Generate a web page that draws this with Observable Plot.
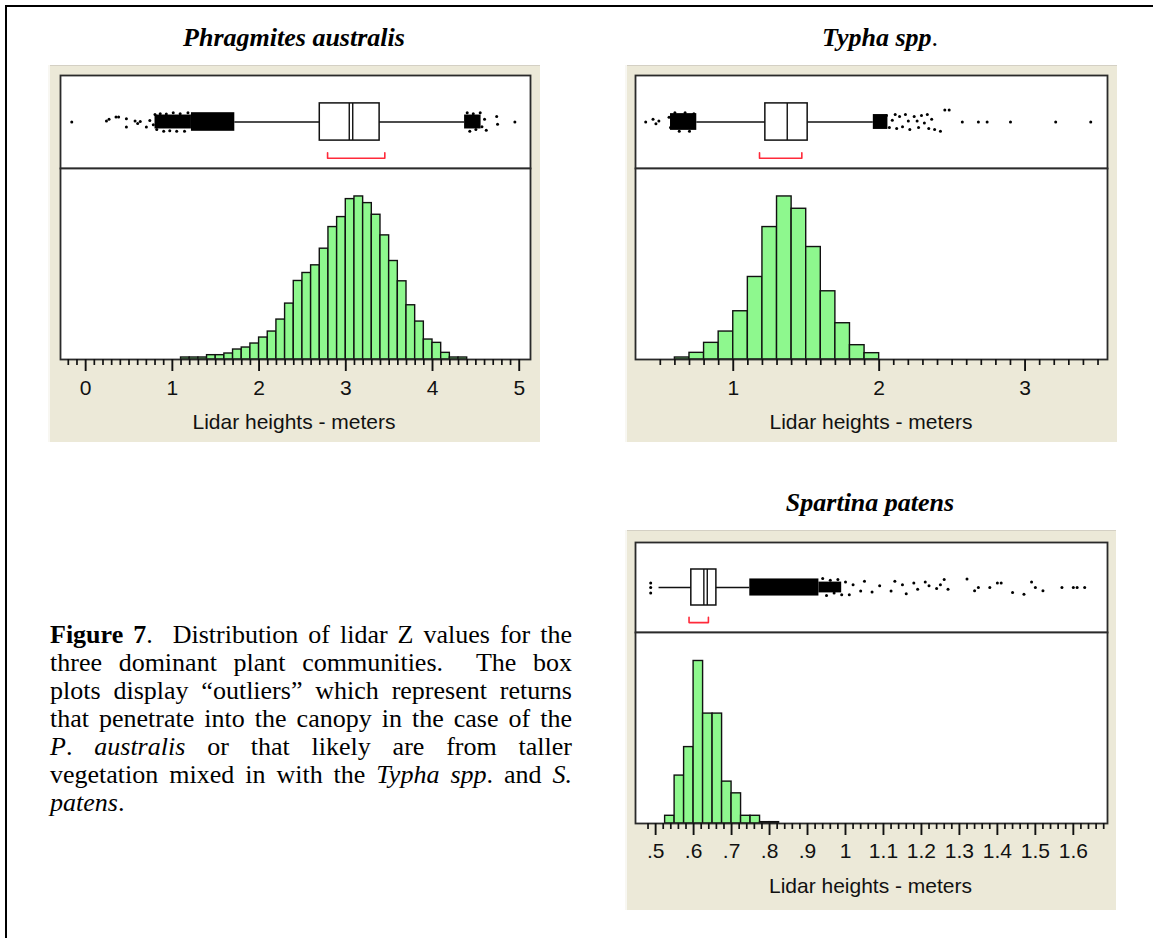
<!DOCTYPE html>
<html>
<head>
<meta charset="utf-8">
<script src="https://cdn.jsdelivr.net/npm/d3@7"></script>
<script src="https://cdn.jsdelivr.net/npm/@observablehq/plot@0.6"></script>
<style>
html,body{margin:0;padding:0;background:#fff;}
body{width:1153px;height:938px;position:relative;overflow:hidden;font-family:"Liberation Serif","Times New Roman",serif;color:#000;}
#outer{position:absolute;left:5px;top:5px;width:1300px;height:1100px;border-left:2px solid #000;border-top:2px solid #000;}
.title{position:absolute;font-weight:bold;font-style:italic;font-size:26px;line-height:30px;white-space:nowrap;transform:translate(-50%,-50%);}
.title .rom{font-style:normal;font-weight:normal;}
.panel{position:absolute;background:#ECE9D8;box-shadow:inset 2px 0 0 #f8f7f2, inset 0 1px 0 #d4d0c4;}
.panel svg{position:absolute;left:0;overflow:visible;}
.xlabel{position:absolute;left:0;right:0;text-align:center;font-family:"Liberation Sans",Arial,sans-serif;font-size:21px;line-height:24px;color:#111;}
#caption{position:absolute;left:50px;top:621px;width:522px;font-size:26px;line-height:28px;}
#caption div{text-align:justify;text-align-last:justify;white-space:nowrap;}
#caption div.last{text-align-last:left;}
</style>
</head>
<body>
<div id="outer"></div>
<div class="title" style="left:294px;top:38px;">Phragmites australis</div>
<div class="title" style="left:880px;top:38px;">Typha spp<span class="rom">.</span></div>
<div class="title" style="left:870px;top:503px;">Spartina patens</div>
<div class="panel" id="p1" style="left:48px;top:65px;width:492px;height:377px;"></div>
<div class="panel" id="p2" style="left:625px;top:65px;width:492px;height:377px;"></div>
<div class="panel" id="p3" style="left:625px;top:530px;width:491px;height:380px;"></div>
<div id="caption">
<div><b>Figure 7</b>.&nbsp; Distribution of lidar Z values for the</div>
<div>three dominant plant communities.&nbsp; The box</div>
<div>plots display “outliers” which represent returns</div>
<div>that penetrate into the canopy in the case of the</div>
<div><i>P</i>. <i>australis</i> or that likely are from taller</div>
<div>vegetation mixed in with the <i>Typha spp</i>. and <i>S.</i></div>
<div class="last"><i>patens</i>.</div>
</div>
<script>
// ---------------- DATA ----------------
const axisTitle = "Lidar heights - meters";

// Phragmites australis
const phragBinLo = [1.1,1.2,1.3,1.4,1.5,1.6,1.7,1.8,1.9,2.0,2.1,2.2,2.3,2.4,2.5,2.6,2.7,2.8,2.9,3.0,3.1,3.2,3.3,3.4,3.5,3.6,3.7,3.8,3.9,4.0,4.1,4.2,4.3];
const phragCounts = [6,6,6,13,13,18,30,36,48,66,84,120,168,236,260,283,333,398,428,482,490,470,435,373,296,235,163,114,60,50,20,6,6];
const phragBinWidth = 0.1;
const phragBox = [1.72, 2.70, 3.39, 4.37];        // lower whisker, Q1, Q3, upper whisker
const phragMedian = [3.04, 3.08];
const phragShortestHalf = [2.79, 3.45];
const phragOutliers = [
  [-0.16,0],[0.24,0.02],[0.27,0.06],[0.35,0.11],[0.38,0.11],[0.47,0.07],[0.47,-0.11],[0.57,0.02],[0.60,-0.03],[0.63,0.01],
  [0.70,-0.11],[0.74,0.03],[0.78,-0.06],[0.80,0.16],[0.82,-0.16],[0.86,0.18],[0.90,-0.2],[0.93,0.17],[0.97,-0.19],[1.01,0.2],
  [1.05,-0.2],[1.09,0.18],[1.14,-0.2],[1.18,0.2],
  [4.40,0.2],[4.43,-0.2],[4.47,0.18],[4.50,-0.16],[4.55,0.2],[4.57,-0.1],[4.60,0.06],[4.62,-0.18],[4.74,0.12],[4.75,-0.05],[4.95,0]
];
const phragDense = [[0.80,1.22,0.15],[1.22,1.72,0.2],[4.37,4.56,0.15]];
const phragTicks = [0,1,2,3,4,5];
const phragTickLabels = ["0","1","2","3","4","5"];

// Typha spp.
const typhaBinLo = [0.6,0.7,0.8,0.9,1.0,1.1,1.2,1.3,1.4,1.5,1.6,1.7,1.8,1.9];
const typhaCounts = [6,20,50,84,145,248,398,490,453,338,205,109,43,19];
const typhaBinWidth = 0.1;
const typhaBox = [0.75, 1.22, 1.51, 1.96];
const typhaMedian = [1.37];
const typhaShortestHalf = [1.18, 1.47];
const typhaOutliers = [
  [0.40,0],[0.45,0.06],[0.47,-0.04],[0.49,0.02],[0.56,0.1],[0.57,-0.12],[0.60,0.2],[0.63,-0.2],[0.67,0.2],[0.70,-0.2],[0.73,0.18],
  [2.05,0.14],[2.07,-0.12],[2.09,0.04],[2.11,0.16],[2.12,-0.14],[2.14,0.12],[2.16,-0.1],[2.18,0.16],[2.20,0.02],[2.21,-0.16],
  [2.24,0.12],[2.26,0.02],[2.27,-0.12],[2.29,0.14],[2.31,-0.02],[2.33,0.16],[2.34,-0.14],[2.36,0.06],[2.38,-0.16],
  [2.42,-0.2],[2.45,0.26],[2.48,0.26],[2.57,0],[2.68,0],[2.74,0],[2.90,0],[3.21,0],[3.45,0]
];
const typhaDense = [[0.57,0.75,0.18],[1.96,2.06,0.16]];
const typhaTicks = [1,2,3];
const typhaTickLabels = ["1","2","3"];

// Spartina patens
const spartBinLo = [0.525,0.55,0.575,0.6,0.625,0.65,0.675,0.7,0.725,0.75,0.775,0.8];
const spartCounts = [23,143,228,485,328,328,125,90,23,23,4,4];
const spartBinWidth = 0.025;
const spartBox = [0.509, 0.594, 0.660, 0.748];
const spartMedian = [0.627, 0.636];
const spartShortestHalf = [0.588, 0.639];
const spartOutliers = [
  [0.487,0.1],[0.487,0],[0.487,-0.12],
  [0.94,0.2],[0.95,-0.18],[0.96,0.16],[0.97,-0.12],[0.98,0.18],[0.99,-0.16],[1.00,0.12],[1.01,-0.16],[1.02,0.06],
  [1.04,-0.08],[1.05,0.14],[1.07,-0.1],[1.09,0.04],[1.12,-0.08],[1.13,0.14],[1.15,0.06],[1.16,-0.14],[1.18,0.1],
  [1.19,-0.04],[1.21,0.12],[1.22,0.04],[1.24,-0.02],[1.25,0.06],[1.26,0.18],[1.27,-0.04],
  [1.32,0.19],[1.34,-0.07],[1.35,0],[1.38,0],[1.40,0.1],[1.41,0.1],[1.44,-0.11],[1.47,-0.15],[1.49,0.12],[1.50,0],
  [1.52,-0.07],[1.57,0],[1.60,0],[1.61,0],[1.63,0]
];
const spartDense = [[0.748,0.93,0.19],[0.93,0.99,0.12]];
const spartTicks = [0.5,0.6,0.7,0.8,0.9,1.0,1.1,1.2,1.3,1.4,1.5,1.6];
const spartTickLabels = [".5",".6",".7",".8",".9","1","1.1","1.2","1.3","1.4","1.5","1.6"];

// ---------------- RENDER ----------------
const FRAME = "#2a2a2a", INK = "#111", GREEN = "#8ef88e", RED = "#ff2a3a";
const sans = "Liberation Sans, Arial, sans-serif";

function boxPlot(o) {
  const stats = [{lo: o.box[0], q1: o.box[1], q3: o.box[2], hi: o.box[3]}];
  const bracket = [[o.half[0], -0.66], [o.half[0], -0.78], [o.half[1], -0.78], [o.half[1], -0.66]];
  return Plot.plot({
    width: o.width, height: o.height,
    marginTop: o.mt, marginBottom: o.mb, marginLeft: o.ml, marginRight: o.mr,
    x: {domain: o.xDomain, axis: null},
    y: {domain: [-1, 1], axis: null},
    style: {background: "transparent", overflow: "visible"},
    marks: [
      Plot.frame({fill: "white", stroke: "none"}),
      Plot.rect(o.dense, {x1: d => d[0], x2: d => d[1], y1: d => -d[2], y2: d => d[2], fill: "#000"}),
      Plot.dot(o.outliers, {x: d => d[0], y: d => d[1], r: 1.5, fill: "#000", stroke: "none"}),
      Plot.ruleY(stats, {y: () => 0, x1: d => d.lo, x2: d => d.hi, stroke: INK, strokeWidth: 1.5}),
      Plot.rect(stats, {x1: d => d.q1, x2: d => d.q3, y1: () => -0.4, y2: () => 0.4, fill: "white", stroke: INK, strokeWidth: 1.5}),
      Plot.ruleX(o.medians, {x: d => d, y1: () => -0.4, y2: () => 0.4, stroke: INK, strokeWidth: 1.4}),
      Plot.line(bracket, {x: d => d[0], y: d => d[1], stroke: RED, strokeWidth: 1.6}),
      Plot.frame({stroke: FRAME, strokeWidth: 1.8})
    ]
  });
}

function histPlot(o) {
  const bins = o.binLo.map((lo, i) => ({lo, hi: lo + o.binWidth, n: o.counts[i]}));
  const plotH = o.height - o.mt - o.mb;
  const minorLen = o.yMax * 6 / plotH, majorLen = o.yMax * 12 / plotH;
  const majorSet = new Set(o.majors.map(v => Math.round(v * 1000)));
  const minors = d3.range(Math.round(o.minorFrom / o.minorStep), Math.round(o.minorTo / o.minorStep) + 1)
    .map(k => +(k * o.minorStep).toFixed(4))
    .filter(v => !majorSet.has(Math.round(v * 1000)));
  return Plot.plot({
    width: o.width, height: o.height,
    marginTop: o.mt, marginBottom: o.mb, marginLeft: o.ml, marginRight: o.mr,
    x: {domain: o.xDomain, axis: null},
    y: {domain: [0, o.yMax], axis: null},
    style: {background: "transparent", overflow: "visible"},
    marks: [
      Plot.frame({fill: "white", stroke: "none"}),
      Plot.rect(bins, {x1: "lo", x2: "hi", y1: () => 0, y2: "n", fill: GREEN, stroke: INK, strokeWidth: 1.4}),
      Plot.frame({stroke: FRAME, strokeWidth: 1.8}),
      Plot.ruleX(minors, {x: d => d, y1: () => 0, y2: () => -minorLen, stroke: INK, strokeWidth: 1.7}),
      Plot.ruleX(o.majors, {x: d => d, y1: () => 0, y2: () => -majorLen, stroke: INK, strokeWidth: 1.9}),
      Plot.text(o.majors, {x: d => d, y: () => 0, dy: o.labelDy, text: (d, i) => o.majorLabels[i],
        fontFamily: sans, fontSize: 21, fill: INK})
    ]
  });
}

function panel(id, cfg) {
  const el = document.getElementById(id);
  const b = boxPlot({...cfg.boxCfg, xDomain: cfg.xDomain, width: cfg.width, ml: cfg.ml, mr: cfg.mr});
  b.style.top = "0px";
  el.appendChild(b);
  const h = histPlot({...cfg.histCfg, xDomain: cfg.xDomain, width: cfg.width, ml: cfg.ml, mr: cfg.mr});
  h.style.top = cfg.histTop + "px";
  el.appendChild(h);
  const lab = document.createElement("div");
  lab.className = "xlabel";
  lab.style.top = cfg.labelTop + "px";
  lab.textContent = axisTitle;
  el.appendChild(lab);
}

panel("p1", {
  xDomain: [-0.29, 5.13], width: 492, ml: 12, mr: 10, histTop: 102, labelTop: 345,
  boxCfg: {height: 104, mt: 10, mb: 1, box: phragBox, medians: phragMedian, half: phragShortestHalf, outliers: phragOutliers, dense: phragDense},
  histCfg: {height: 275, mt: 1, mb: 83, yMax: 574, binLo: phragBinLo, binWidth: phragBinWidth, counts: phragCounts,
    majors: phragTicks, majorLabels: phragTickLabels, minorFrom: -0.2, minorTo: 5.0, minorStep: 0.1, labelDy: 28.5}
});

panel("p2", {
  xDomain: [0.33, 3.565], width: 492, ml: 10, mr: 10, histTop: 102, labelTop: 345,
  boxCfg: {height: 104, mt: 10, mb: 1, box: typhaBox, medians: typhaMedian, half: typhaShortestHalf, outliers: typhaOutliers, dense: typhaDense},
  histCfg: {height: 275, mt: 1, mb: 83, yMax: 574, binLo: typhaBinLo, binWidth: typhaBinWidth, counts: typhaCounts,
    majors: typhaTicks, majorLabels: typhaTickLabels, minorFrom: 0.5, minorTo: 3.5, minorStep: 0.1, labelDy: 28.5}
});

panel("p3", {
  xDomain: [0.447, 1.69], width: 491, ml: 10, mr: 9, histTop: 101, labelTop: 344,
  boxCfg: {height: 103, mt: 12, mb: 1, box: spartBox, medians: spartMedian, half: spartShortestHalf, outliers: spartOutliers, dense: spartDense},
  histCfg: {height: 279, mt: 1, mb: 87, yMax: 570, binLo: spartBinLo, binWidth: spartBinWidth, counts: spartCounts,
    majors: spartTicks, majorLabels: spartTickLabels, minorFrom: 0.48, minorTo: 1.68, minorStep: 0.02, labelDy: 28}
});
</script>
</body>
</html>
